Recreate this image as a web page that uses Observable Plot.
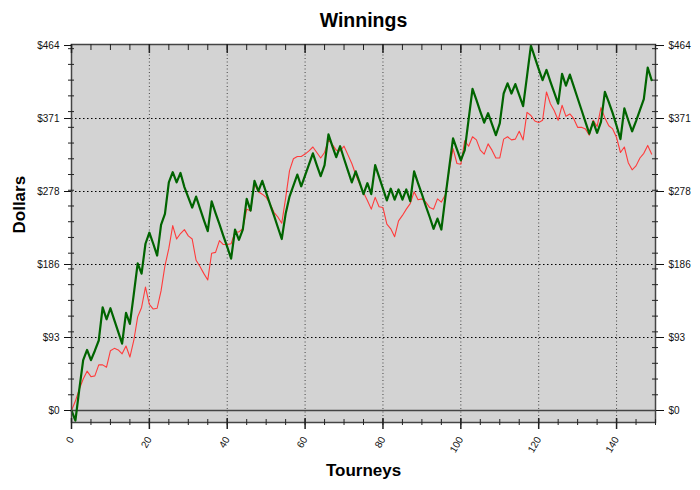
<!DOCTYPE html>
<html><head><meta charset="utf-8">
<script src="https://cdn.jsdelivr.net/npm/d3@7"></script>
<script src="https://cdn.jsdelivr.net/npm/@observablehq/plot@0.6"></script>
<style>html,body{margin:0;padding:0;background:#fff;}</style>
</head><body><div id="chart"></div>
<script>
const title = "Winnings";
const xLabel = "Tourneys";
const yLabel = "Dollars";

// Series values, one per tourney (0..149)
const greenSeries = [0,-13,27,64,77,64,76,89,131,116,130,115,100,85,124,110,148,187,174,212,226,212,197,236,250,290,303,290,302,284,271,258,272,257,242,228,266,251,237,222,208,193,230,217,230,269,254,292,279,292,277,262,248,233,218,250,272,286,300,285,299,313,327,312,298,312,351,336,322,336,320,305,290,304,290,275,289,275,312,297,282,267,282,268,281,268,281,266,304,289,275,260,246,231,244,230,270,308,346,332,318,331,370,409,395,380,366,378,364,350,365,403,416,403,415,401,387,425,464,449,434,420,433,418,404,390,428,413,427,412,397,382,367,352,367,353,367,405,392,378,362,345,384,369,355,368,382,396,436,420];
const redSeries = [0,12,27,40,50,43,44,58,58,55,76,79,77,72,82,68,89,119,131,157,135,129,130,152,184,206,235,218,225,230,222,218,191,183,174,166,200,201,216,211,211,212,227,227,231,256,254,288,278,275,271,263,252,246,238,270,305,320,323,323,326,330,335,328,321,328,344,338,331,330,336,325,314,300,288,277,267,256,271,259,258,237,231,221,241,248,256,263,278,268,269,265,258,256,269,265,274,305,333,314,313,343,336,348,344,331,326,339,331,321,321,345,348,344,345,355,344,379,375,368,366,369,405,390,381,369,388,374,377,371,360,360,358,350,369,361,385,372,362,358,347,328,335,315,306,311,321,327,337,326];

const yTickValues = [0, 92.8, 185.6, 278.4, 371.2, 464];
const yTickLabels = ["$0", "$93", "$186", "$278", "$371", "$464"];
const xTickValues = [0, 20, 40, 60, 80, 100, 120, 140];
const xMinorTicks = d3.range(0, 151, 5);
const yMinorTicks = d3.range(20, 461, 20);

const greenRows = greenSeries.map((v, i) => ({x: i, y: v}));
const redRows = redSeries.map((v, i) => ({x: i, y: v}));

const W = 700, H = 490, mL = 71, mR = 45, mT = 44, mB = 68;
const fw = W - mL - mR, fh = H - mT - mB;
const fmtY = d => yTickLabels[yTickValues.indexOf(d)];

const chart = Plot.plot({
  width: W, height: H,
  marginLeft: mL, marginRight: mR, marginTop: mT, marginBottom: mB,
  style: {fontFamily: "'Liberation Sans', Arial, sans-serif", background: "#fff", color: "#111"},
  x: {domain: [0, 150]},
  y: {domain: [-15.25, 465.3]},
  marks: [
    Plot.frame({fill: "#d3d3d3", stroke: "none"}),
    Plot.ruleX(xTickValues.filter(d => d > 0), {x: d => d, stroke: "#444", strokeDasharray: "1,2.5"}),
    Plot.ruleY(yTickValues.filter(d => d > 0 && d < 464), {y: d => d, stroke: "#000", strokeDasharray: "1.5,2.5"}),
    Plot.ruleY([0], {y: d => d, stroke: "#444", strokeWidth: 1.5}),
    Plot.line(redRows, {x: "x", y: "y", stroke: "#ff3b3b", strokeWidth: 1.1}),
    Plot.line(greenRows, {x: "x", y: "y", stroke: "#006400", strokeWidth: 2.2}),
    Plot.frame({stroke: "#444", strokeWidth: 1.5, fill: "none"}),
    // minor y ticks crossing left and right axes
    Plot.tickY(yMinorTicks, {y: d => d, insetRight: fw - 6, dx: -3, stroke: "#222"}),
    Plot.tickY(yMinorTicks, {y: d => d, insetLeft: fw - 6, dx: 3, stroke: "#222"}),
    // x ticks bottom and top
    Plot.tickX(xMinorTicks, {x: d => d, insetTop: fh - 6, dy: 3, stroke: "#222"}),
    Plot.tickX(xMinorTicks, {x: d => d, insetBottom: fh - 6, stroke: "#222"}),
    Plot.tickX(xTickValues, {x: d => d, insetTop: fh - 11, dy: 7, stroke: "#222", strokeWidth: 1.5}),
    Plot.tickX(xTickValues, {x: d => d, insetBottom: fh - 9, stroke: "#222", strokeWidth: 1.5}),
    Plot.axisY(yTickValues, {anchor: "left", tickFormat: fmtY, tickSize: 7, tickPadding: 5, fontSize: 10, label: null}),
    Plot.axisY(yTickValues, {anchor: "right", tickFormat: fmtY, tickSize: 8, tickPadding: 5, fontSize: 10, label: null}),
    Plot.axisX(xTickValues, {anchor: "bottom", tickSize: 0, tickPadding: 15, tickRotate: -60, fontSize: 10, label: null}),
    Plot.text([title], {frameAnchor: "top", dy: -24, lineAnchor: "middle", fontSize: 19.5, fontWeight: "bold", fill: "#000"}),
    Plot.text([xLabel], {frameAnchor: "bottom", dy: 48, lineAnchor: "middle", fontSize: 17, fontWeight: "bold", fill: "#000"}),
    Plot.text([yLabel], {frameAnchor: "left", dx: -52, rotate: -90, fontSize: 17, fontWeight: "bold", fill: "#000"})
  ]
});
document.getElementById("chart").appendChild(chart);
</script>
</body></html>
